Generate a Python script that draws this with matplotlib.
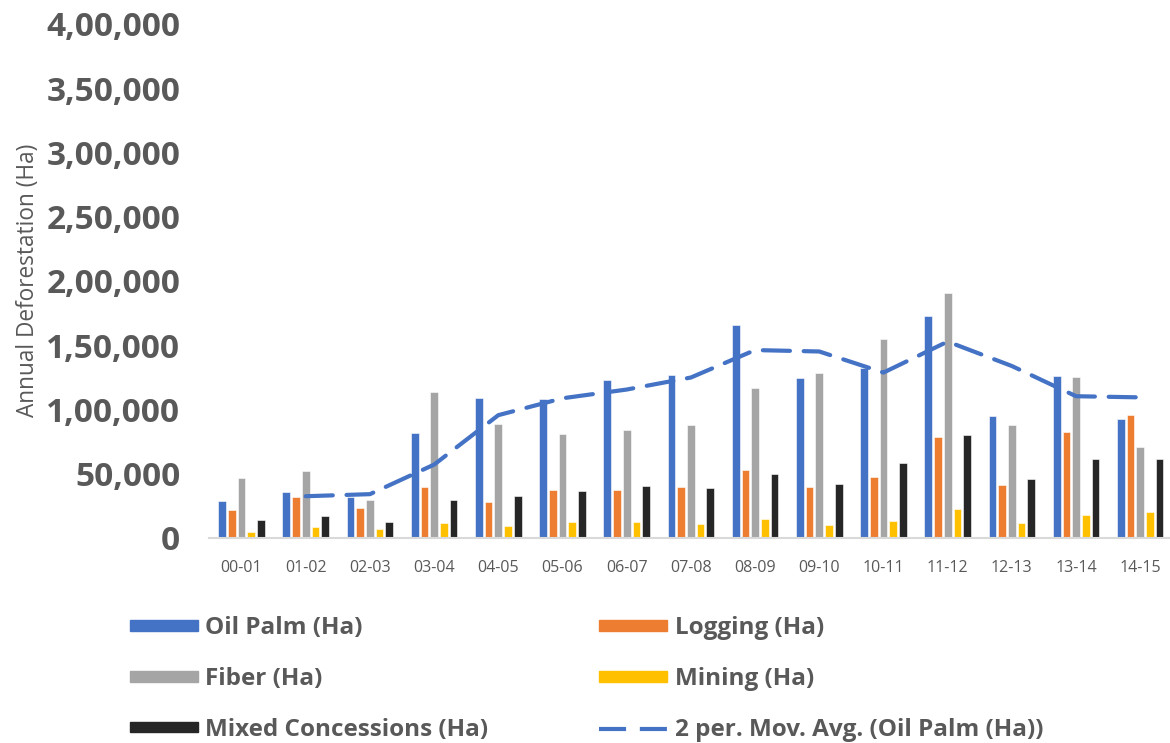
import numpy as np
import matplotlib.pyplot as plt
from matplotlib.patches import Patch
from matplotlib.lines import Line2D
from matplotlib.ticker import FuncFormatter

years = ['00-01', '01-02', '02-03', '03-04', '04-05', '05-06', '06-07', '07-08',
         '08-09', '09-10', '10-11', '11-12', '12-13', '13-14', '14-15']
oil_palm = [28900, 36000, 32100, 82000, 109000, 108300, 122600, 127000,
            165300, 124800, 132500, 173000, 94500, 126000, 92700]
logging = [21800, 32100, 23100, 40000, 28300, 37000, 37300, 39400,
           52600, 39400, 47300, 78300, 41500, 82300, 95300]
fiber = [46400, 52300, 29500, 113500, 89000, 80700, 84000, 87500,
         116300, 128000, 155000, 190200, 87500, 125000, 70500]
mining = [4900, 8300, 6700, 12000, 9300, 12300, 12300, 10600,
          14500, 9800, 13500, 22300, 11400, 18200, 20100]
mixed = [14000, 17300, 12200, 29500, 32600, 36200, 40100, 38500,
         50000, 42000, 58500, 80400, 46200, 61400, 61400]

series = [('Oil Palm (Ha)', oil_palm, '#4472C4'),
          ('Logging (Ha)', logging, '#ED7D31'),
          ('Fiber (Ha)', fiber, '#A5A5A5'),
          ('Mining (Ha)', mining, '#FFC000'),
          ('Mixed Concessions (Ha)', mixed, '#262626')]

# Excel style 2 period moving average trendline
op = np.array(oil_palm, dtype=float)
mov_avg = (op[1:] + op[:-1]) / 2

def indian_fmt(v, pos):
    v = int(round(v))
    if v == 0:
        return '0'
    s = str(v)
    last3 = s[-3:]
    rest = s[:-3]
    parts = []
    while len(rest) > 2:
        parts.insert(0, rest[-2:])
        rest = rest[:-2]
    if rest:
        parts.insert(0, rest)
    return ','.join(parts + [last3])

plt.rcParams['font.family'] = ['Open Sans', 'DejaVu Sans']
txt = '#595959'

fig = plt.figure(figsize=(11.7, 7.43), dpi=100)
ax = fig.add_axes([0.179, 0.276, 0.823, 0.692])

x = np.arange(len(years))
step = 0.151
width = 0.12
for i, (name, vals, col) in enumerate(series):
    ax.bar(x + (i - 2) * step, vals, width, color=col, edgecolor='white', linewidth=0.4)

ax.plot(x[1:], mov_avg, color='#4472C4', lw=3, dashes=(6.5, 3.3), dash_capstyle='round')

ax.set_xlim(-0.5, len(years) - 0.5)
ax.set_ylim(0, 400000)
ax.set_yticks(np.arange(0, 400001, 50000))
ax.yaxis.set_major_formatter(FuncFormatter(indian_fmt))
ax.set_xticks(x)
ax.set_xticklabels(years)
for lab in ax.get_yticklabels():
    lab.set_fontweight('bold')
    lab.set_fontsize(24)
    lab.set_color(txt)
for lab in ax.get_xticklabels():
    lab.set_fontsize(11.5)
    lab.set_color(txt)
ax.tick_params(axis='x', length=0, pad=16)
ax.tick_params(axis='y', length=0, pad=21)
for s in ['top', 'right', 'left']:
    ax.spines[s].set_visible(False)
ax.spines['bottom'].set_color('#D9D9D9')
ax.spines['bottom'].set_linewidth(1.5)
ax.set_ylabel('Annual Deforestation (Ha)', fontsize=16.3, color=txt)
ax.yaxis.set_label_coords(-0.176, 0.5)

handles = [Patch(color=c) for _, _, c in series]
handles.append(Line2D([], [], color='#4472C4', lw=3, dashes=(6.5, 3.3)))
labels = [n for n, _, _ in series] + ['2 per. Mov. Avg. (Oil Palm (Ha))']
order = [0, 2, 4, 1, 3, 5]
leg = fig.legend([handles[i] for i in order], [labels[i] for i in order],
                 ncol=2, loc='upper left', bbox_to_anchor=(0.0925, 0.2),
                 frameon=False, handlelength=2.8, handleheight=0.29,
                 handletextpad=0.3, columnspacing=4.55, labelspacing=1.1,
                 prop={'weight': 'bold', 'size': 17.5})
for t in leg.get_texts():
    t.set_color(txt)

fig.savefig('out.png', dpi=100)
